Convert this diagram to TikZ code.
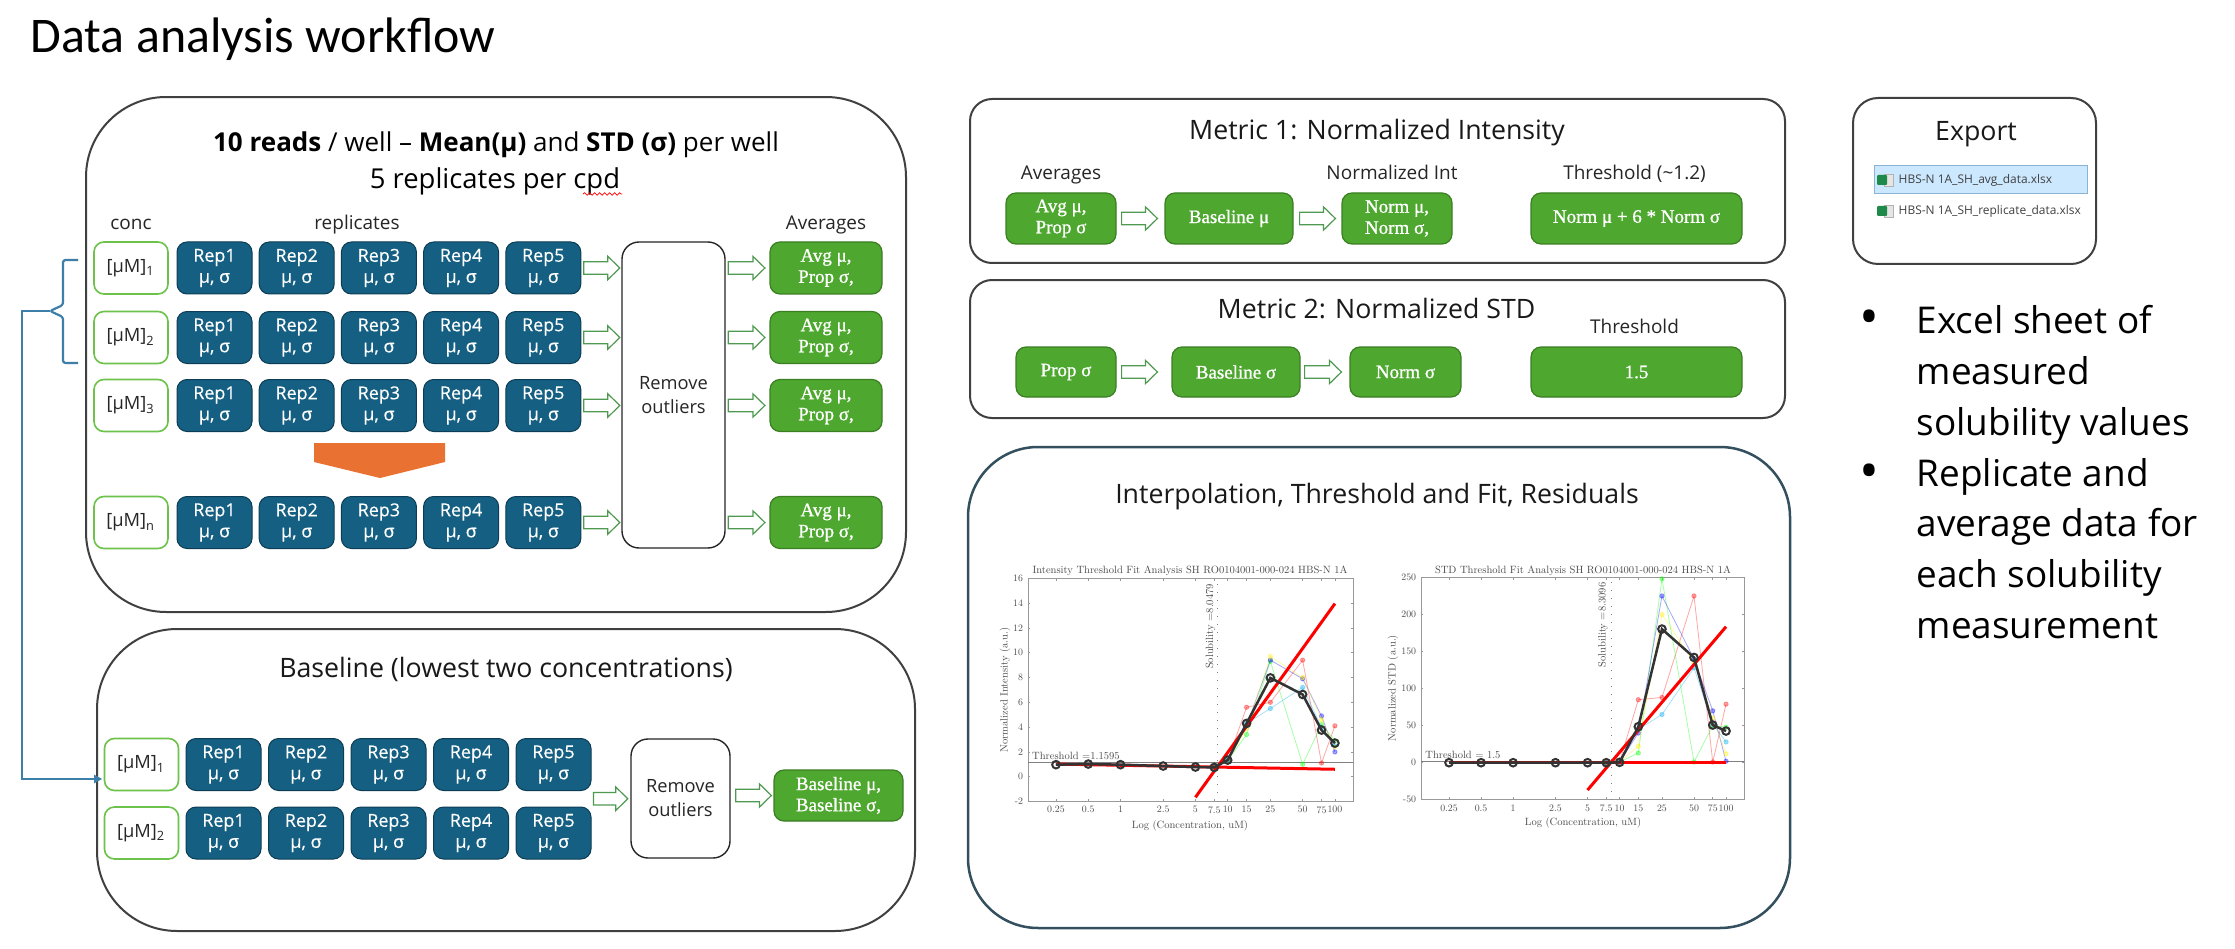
\documentclass[tikz,border=0pt]{standalone}
\usepackage{fontspec}
\newfontfamily\osans{Open Sans}
\newfontfamily\osansm[FakeBold=0.4]{Open Sans}
\newfontfamily\calib{Carlito}
\newfontfamily\lser[FakeBold=0.9]{Liberation Serif}
\newfontfamily\plotfont{lmroman10-regular.otf}
\usetikzlibrary{calc,arrows.meta,plotmarks,decorations.pathmorphing}
\definecolor{bluefill}{HTML}{156082}
\definecolor{blueline}{HTML}{0C3D54}
\definecolor{greenfill}{HTML}{4EA72E}
\definecolor{greenline}{HTML}{3B7F23}
\definecolor{concgreen}{HTML}{6CC24A}
\definecolor{arrgreen}{HTML}{4E9A50}
\definecolor{orangef}{HTML}{E97132}
\definecolor{bracketblue}{HTML}{3D7FA8}
\definecolor{boxline}{HTML}{404040}
\definecolor{interpline}{HTML}{34505F}
\definecolor{hlfill}{HTML}{CCE8FF}
\definecolor{hlborder}{HTML}{8DB3D3}
\definecolor{xlgreen}{HTML}{1D8A4A}
\tikzset{
 bigbox/.style={draw=boxline, line width=0.2mm, fill=white, inner sep=0pt},
 repbox/.style={draw=blueline, line width=0.1mm, fill=bluefill, rounded corners=1mm, minimum width=7.5mm, minimum height=5.2mm, inner sep=0pt, align=center, text=white, font=\osansm\fontsize{5.1}{6}\selectfont},
 concbox/.style={draw=concgreen, line width=0.16mm, fill=white, rounded corners=1mm, minimum width=7.4mm, minimum height=5.2mm, inner sep=0pt, text=black!85, font=\osans\fontsize{5.2}{6}\selectfont},
 gbox/.style={draw=greenline, line width=0.12mm, fill=greenfill, rounded corners=1mm, minimum height=5.1mm, inner sep=0pt, align=center, text=white, font=\lser\fontsize{5.4}{6}\selectfont},
 robox/.style={draw=black!85, line width=0.14mm, fill=white, rounded corners=1.7mm, inner sep=0pt, align=center, text=black!85, font=\osans\fontsize{5.2}{6.8}\selectfont},
 lab/.style={inner sep=0pt, text=black!85, font=\osans\fontsize{5.4}{6.5}\selectfont, anchor=base},
 sect/.style={inner sep=0pt, text=black!90, font=\osans\fontsize{7.6}{9}\selectfont, anchor=base},
 barrowsty/.style={draw=arrgreen, line width=0.12mm, fill=white},
 tickln/.style={draw=black!40, line width=0.06mm},
 ticklab/.style={inner sep=0pt, text=black!70, font=\plotfont\fontsize{2.8}{3.3}\selectfont},
 plotlab/.style={inner sep=0pt, text=black!70, font=\plotfont\fontsize{3.0}{3.6}\selectfont},
 bullettext/.style={inner sep=0pt, text=black, font=\osans\fontsize{10.5}{14}\selectfont},
 fname/.style={inner sep=0pt, text=black!75, font=\osans\fontsize{3.4}{4}\selectfont, anchor=west},
 rep/.style={opacity=0.35, line width=0.08mm, mark=*, mark size=0.22mm},
 meanline/.style={draw=black!80, line width=0.25mm, mark=o, mark size=0.38mm, mark options={line width=0.2mm}},
 redfit/.style={draw=red, line width=0.3mm},
}
\newcommand\barrow[2]{\draw[barrowsty] let \p1=(#1), \p2=(#2) in
  (\x1,\y1+0.62mm) -- (\x2-1.2mm,\y1+0.62mm) -- (\x2-1.2mm,\y1+1.17mm) -- (\x2,\y1)
  -- (\x2-1.2mm,\y1-1.17mm) -- (\x2-1.2mm,\y1-0.62mm) -- (\x1,\y1-0.62mm) -- cycle;}
\begin{document}
\begin{tikzpicture}[x=0.1mm,y=-0.1mm]
\useasboundingbox (0,0) rectangle (2235,949);
\fill[white] (0,0) rectangle (2235,949);

\node[anchor=base west, inner sep=0pt, font=\calib\fontsize{14.2}{17}\selectfont] (title) at (30,53) {Data analysis workflow};

%% ---------------- main box
\node[bigbox, rounded corners=8mm, minimum width=82mm, minimum height=51.5mm] (main) at (496,354.5) {};
\node[anchor=base, inner sep=0pt, font=\osans\fontsize{7.4}{9}\selectfont] (h1) at (496,152)
  {\textbf{10 reads} / well – \textbf{Mean(μ)} and \textbf{STD (σ)} per well};
\node[anchor=base, inner sep=0pt, font=\osans\fontsize{7.8}{9}\selectfont] (h2) at (495,189) {5 replicates per cpd};
\draw[red, line width=0.07mm, decorate, decoration={snake, amplitude=0.13mm, segment length=0.5mm}] (583,194) -- (622,194);
\node[lab] (lconc) at (131,230) {conc};
\node[lab] (lrep) at (357,230) {replicates};
\node[lab] (lavg) at (826,230) {Averages};

\foreach \rw/\yy/\subs in {1/268/1,2/337.5/2,3/405.5/3,4/522.5/n}{
  \node[concbox] (c\rw) at (131,\yy) {[μM]\textsubscript{\subs}};
  \foreach \kk in {1,...,5}{
    \node[repbox] (r\rw-\kk) at ({214.5+82.2*(\kk-1)},\yy) {Rep\kk\\μ, σ};
  }
  \node[gbox, minimum width=11.2mm, minimum height=5.2mm] (a\rw) at (826,\yy) {Avg μ,\\Prop σ,};
}
\node[robox, minimum width=10.3mm, minimum height=30.6mm] (ro) at (673.5,395) {Remove\\outliers};
\foreach \rw in {1,2,3,4}{
  \barrow{$(r\rw-5.east)+(0.25mm,0)$}{$(ro.west|-r\rw-5.east)+(-0.15mm,0)$}
  \barrow{$(ro.east|-a\rw.west)+(0.25mm,0)$}{$(a\rw.west)+(-0.45mm,0)$}
}
\fill[orangef] (314,443) -- (445,443) -- (445,462) -- (380,478) -- (314,462) -- cycle;

%% ---------------- baseline box
\node[bigbox, rounded corners=8mm, minimum width=81.8mm, minimum height=30.2mm] (bbox) at (506,780) {};
\node[sect] (btitle) at (506,677) {Baseline (lowest two concentrations)};
\foreach \rw/\yy in {1/764.5,2/833}{
  \node[concbox] (bc\rw) at (141.5,\yy) {[μM]\textsubscript{\rw}};
  \foreach \kk in {1,...,5}{
    \node[repbox] (b\rw-\kk) at ({223.5+82.5*(\kk-1)},\yy) {Rep\kk\\μ, σ};
  }
}
\node[robox, minimum width=9.9mm, minimum height=11.9mm] (bro) at (680.5,798.5) {Remove\\outliers};
\node[gbox, minimum width=12.9mm] (bres) at (838.5,795.5) {Baseline μ,\\Baseline σ,};
\barrow{$(b1-5.east)!.5!(b2-5.east)+(0.2mm,0)$}{$(bro.west)+(-0.25mm,0)$}
\barrow{$(bro.east|-bres.west)+(0.5mm,0)$}{$(bres.west)+(-0.2mm,0)$}

%% bracket and connector
\coordinate (bt) at (50,311);
\draw[bracketblue, line width=0.22mm, rounded corners=0.25mm] (78,260) -- (63,260) -- (63,305) -- (bt) -- (63,317) -- (63,363) -- (78,363);
\draw[bracketblue, line width=0.2mm, -{Triangle[length=0.8mm,width=0.8mm]}] (bt) -- ++(-2.8mm,0) |- ($(bc1.west)+(-0.15mm,-1.45mm)$);

%% ---------------- metric 1
\node[bigbox, rounded corners=2.2mm, minimum width=81.5mm, minimum height=16.4mm] (m1) at (1377.5,181) {};
\node[sect] (m1t) at (1377,139) {Metric 1: Normalized Intensity};
\node[lab] (m1la) at (1061,180) {Averages};
\node[lab] (m1lb) at (1392,180) {Normalized Int};
\node[lab] (m1lc) at (1634.5,180) {Threshold (\textasciitilde1.2)};
\node[gbox, minimum width=11mm] (m1a) at (1061,218.5) {Avg μ,\\Prop σ};
\node[gbox, minimum width=12.8mm] (m1b) at (1229,218.5) {Baseline μ};
\node[gbox, minimum width=11mm] (m1c) at (1397,218.5) {Norm μ,\\Norm σ,};
\node[gbox, minimum width=21.1mm] (m1d) at (1636.5,218.5) {Norm μ + 6 * Norm σ};
\barrow{$(m1a.east)+(0.5mm,0)$}{$(m1b.west)+(-0.7mm,0)$}
\barrow{$(m1b.east)+(0.6mm,0)$}{$(m1c.west)+(-0.6mm,0)$}

%% ---------------- metric 2
\node[bigbox, rounded corners=2.2mm, minimum width=81.5mm, minimum height=13.8mm] (m2) at (1377.5,349) {};
\node[sect] (m2t) at (1376.5,318) {Metric 2: Normalized STD};
\node[lab] (m2l) at (1634.5,334) {Threshold};
\node[gbox, minimum width=10mm, minimum height=5mm] (m2a) at (1066,372) {Prop σ};
\node[gbox, minimum width=12.8mm, minimum height=5mm] (m2b) at (1236,372) {Baseline σ};
\node[gbox, minimum width=11.1mm, minimum height=5mm] (m2c) at (1405.5,372) {Norm σ};
\node[gbox, minimum width=21.1mm, minimum height=5mm] (m2d) at (1636.5,372) {1.5};
\barrow{$(m2a.east)+(0.5mm,0)$}{$(m2b.west)+(-1.4mm,0)$}
\barrow{$(m2b.east)+(0.4mm,0)$}{$(m2c.west)+(-0.8mm,0)$}

%% ---------------- interpolation box
\node[draw=interpline, line width=0.25mm, fill=white, rounded corners=7mm, minimum width=82.2mm, minimum height=48.1mm, inner sep=0pt] (ip) at (1379,687.5) {};
\node[sect] (ipt) at (1377,503) {Interpolation, Threshold and Fit, Residuals};

% plot 1
\node[plotlab, anchor=base] (p1t) at (1190,573) {Intensity Threshold Fit Analysis SH RO0104001-000-024 HBS-N 1A};
\node[plotlab] (p1x) at (1190,826) {Log (Concentration, uM)};
\node[plotlab, rotate=90] (p1y) at (1005,690) {Normalized Intensity (a.u.)};
\begin{scope}[shift={(1120.5,776.7)}, x=10.72mm, y=1.24mm]
  \draw[tickln, line width=0.08mm] (-0.863,-2) rectangle (2.169,16);
  \foreach \vv in {-2,0,2,...,16}{
    \draw[tickln] (-0.863,\vv) -- ++(0.7pt,0);
    \draw[tickln] (2.169,\vv) -- ++(-0.7pt,0);
    \node[ticklab, anchor=east, xshift=-1.2pt] at (-0.863,\vv) {\vv};
  }
  \foreach \lx/\tl in {-0.60206/0.25,-0.30103/0.5,0/1,0.39794/2.5,0.69897/5,0.87506/7.5,1/10,1.17609/15,1.39794/25,1.69897/50,1.87506/75,2/100}{
    \draw[tickln] (\lx,-2) -- ++(0,0.7pt);
    \draw[tickln] (\lx,16) -- ++(0,-0.7pt);
    \node[ticklab, anchor=north, yshift=-1.2pt] at (\lx,-2) {\tl};
  }
  \draw[black!50, line width=0.08mm] (-0.863,1.1595) -- (2.169,1.1595);
  \draw[black!50, dotted, line width=0.1mm] (0.9057,-2) -- (0.9057,16);
  \draw[rep, red] plot coordinates {(0.875,0.75) (1,1.3) (1.176,5.6) (1.398,6.0) (1.699,9.4) (1.875,1.1) (2,4.1)};
  \draw[rep, green] plot coordinates {(0.875,0.75) (1,1.3) (1.176,3.4) (1.398,9.3) (1.699,1.0) (1.875,4.2) (2,2.9)};
  \draw[rep, blue] plot coordinates {(0.875,0.75) (1,1.3) (1.176,4.1) (1.398,9.4) (1.699,7.9) (1.875,4.9) (2,2.0)};
  \draw[rep, yellow] plot coordinates {(0.875,0.75) (1,1.3) (1.176,3.9) (1.398,9.7) (1.699,8.0) (1.875,4.6) (2,2.4)};
  \draw[rep, cyan] plot coordinates {(0.875,0.75) (1,1.3) (1.176,4.3) (1.398,5.5) (1.699,7.2) (1.875,4.0) (2,2.5)};
  \draw[redfit] (0.699,-1.66) -- (2,13.96);
  \draw[redfit] (-0.602,1.02) -- (2,0.6);
  \draw[meanline] plot coordinates {(-0.60206,0.97) (-0.30103,1.02) (0,0.97) (0.39794,0.86) (0.69897,0.78) (0.87506,0.75) (1,1.34) (1.17609,4.3) (1.39794,7.97) (1.69897,6.63) (1.87506,3.76) (2,2.71)};
  \node[plotlab, anchor=south west] at (-0.83,1.35) {Threshold =1.1595};
  \node[plotlab, rotate=90, anchor=east] at (0.84,15.6) {Solubility =8.0479};
\end{scope}

% plot 2
\node[plotlab, anchor=base] (p2t) at (1583,573) {STD Threshold Fit Analysis SH RO0104001-000-024 HBS-N 1A};
\node[plotlab] (p2x) at (1583,823) {Log (Concentration, uM)};
\node[plotlab, rotate=90] (p2y) at (1393,688) {Normalized STD (a.u.)};
\begin{scope}[shift={(1513.1,762.7)}, x=10.647mm, y=0.07413mm]
  \draw[tickln, line width=0.08mm] (-0.865,-50) rectangle (2.169,250);
  \foreach \vv in {-50,0,50,...,250}{
    \draw[tickln] (-0.865,\vv) -- ++(0.7pt,0);
    \draw[tickln] (2.169,\vv) -- ++(-0.7pt,0);
    \node[ticklab, anchor=east, xshift=-1.2pt] at (-0.865,\vv) {\vv};
  }
  \foreach \lx/\tl in {-0.60206/0.25,-0.30103/0.5,0/1,0.39794/2.5,0.69897/5,0.87506/7.5,1/10,1.17609/15,1.39794/25,1.69897/50,1.87506/75,2/100}{
    \draw[tickln] (\lx,-50) -- ++(0,0.7pt);
    \draw[tickln] (\lx,250) -- ++(0,-0.7pt);
    \node[ticklab, anchor=north, yshift=-1.2pt] at (\lx,-50) {\tl};
  }
  \draw[black!50, line width=0.08mm] (-0.865,1.5) -- (2.169,1.5);
  \draw[black!50, dotted, line width=0.1mm] (0.9196,-50) -- (0.9196,250);
  \draw[rep, red] plot coordinates {(0.875,0) (1,1) (1.176,85) (1.398,88) (1.699,225) (1.875,1) (2,79)};
  \draw[rep, green] plot coordinates {(0.875,0) (1,1) (1.176,13) (1.398,248) (1.699,1) (1.875,50) (2,48)};
  \draw[rep, blue] plot coordinates {(0.875,0) (1,1) (1.176,40) (1.398,225) (1.699,140) (1.875,70) (2,2)};
  \draw[rep, yellow] plot coordinates {(0.875,0) (1,1) (1.176,22) (1.398,200) (1.699,135) (1.875,60) (2,12)};
  \draw[rep, cyan] plot coordinates {(0.875,0) (1,1) (1.176,45) (1.398,65) (1.699,128) (1.875,52) (2,28)};
  \draw[redfit] (0.699,-36.9) -- (2,183.5);
  \draw[redfit] (-0.602,0) -- (2,0);
  \draw[meanline] plot coordinates {(-0.60206,0) (-0.30103,0) (0,0) (0.39794,0) (0.69897,0) (0.87506,0) (1,0.5) (1.17609,48.6) (1.39794,180.3) (1.69897,142) (1.87506,50.8) (2,42.7)};
  \node[plotlab, anchor=south west] at (-0.83,4) {Threshold = 1.5};
  \node[plotlab, rotate=90, anchor=east] at (0.845,244) {Solubility =8.3096};
\end{scope}

%% ---------------- export
\node[bigbox, rounded corners=2.5mm, minimum width=24.3mm, minimum height=16.6mm] (exp) at (1974.5,181) {};
\node[sect] (expt) at (1976,141) {Export};
\node[draw=hlborder, fill=hlfill, line width=0.1mm, minimum width=21.3mm, minimum height=2.8mm, inner sep=0pt] (hl) at (1980.5,180) {};
\foreach \yy/\tx [count=\ii] in {180/HBS-N 1A\_SH\_avg\_data.xlsx, 211/HBS-N 1A\_SH\_replicate\_data.xlsx}{
  \node[fill=gray!20, draw=gray!60, line width=0.05mm, minimum width=0.9mm, minimum height=1.2mm, inner sep=0pt] (pg\ii) at (1889,\yy) {};
  \node[fill=xlgreen, minimum size=1mm, inner sep=0pt, rounded corners=0.1mm] (ic\ii) at (1882,\yy) {};
  \node[fname] (fn\ii) at (1898,\yy) {\tx};
}

%% ---------------- bullets
\node[bullettext, anchor=base, font=\osans\fontsize{15}{16}\selectfont] (dot1) at (1869,336) {•};
\node[bullettext, anchor=base, font=\osans\fontsize{15}{16}\selectfont] (dot2) at (1869,489) {•};
\foreach \yy/\tx [count=\ii] in {333/Excel sheet of, 384/measured, 435/solubility values, 486/Replicate and, 536/average data for, 587/each solubility, 638/measurement}{
  \node[bullettext, anchor=base west] (bl\ii) at (1916,\yy) {\tx};
}
\end{tikzpicture}
\end{document}
